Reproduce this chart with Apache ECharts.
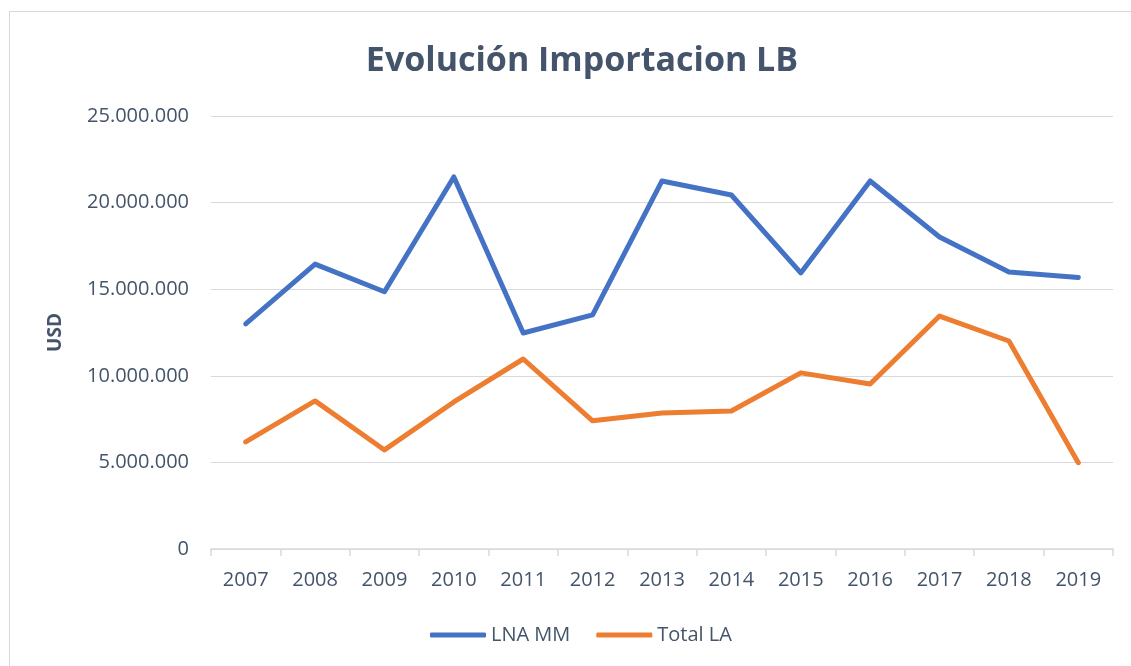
<!DOCTYPE html>
<html>
<head>
<meta charset="utf-8">
<script src="https://cdn.jsdelivr.net/npm/echarts@6/dist/echarts.min.js"></script>
<style>
  html, body { margin: 0; padding: 0; background: #fff; }
  #frame { position: absolute; left: 9px; top: 11px; width: 1140px; height: 680px; border: 1px solid #D9D9D9; box-sizing: border-box; }
  #chart { position: absolute; left: 0; top: 0; width: 1131px; height: 666px; }
</style>
</head>
<body>
<div id="frame"></div>
<div id="chart"></div>
<script>
const years = ['2007', '2008', '2009', '2010', '2011', '2012', '2013', '2014', '2015', '2016', '2017', '2018', '2019'];
const lnaMM = [13000000, 16450000, 14850000, 21480000, 12470000, 13520000, 21250000, 20440000, 15940000, 21250000, 18010000, 15990000, 15670000];
const totalLA = [6180000, 8550000, 5720000, 8490000, 10970000, 7400000, 7850000, 7970000, 10170000, 9530000, 13450000, 12010000, 4980000];

const textColor = '#44546A';
const gridColor = '#D9D9D9';
const font = '"Open Sans", "Noto Sans", sans-serif';

function fmtDots(v) {
    return String(v).replace(/\B(?=(\d{3})+(?!\d))/g, '.');
}

const chart = echarts.init(document.getElementById('chart'));
chart.setOption({
    animation: false,
    textStyle: { fontFamily: font },
    title: {
        text: 'Evolución Importacion LB',
        left: 577,
        textAlign: 'center',
        top: 39,
        textStyle: { color: textColor, fontSize: 34, fontWeight: 'bold', fontFamily: font },
    },
    legend: {
        bottom: 16,
        left: 425,
        icon: 'roundRect',
        itemWidth: 56,
        itemHeight: 5,
        itemGap: 26,
        textStyle: { color: textColor, fontSize: 20, fontFamily: font },
        data: ['LNA MM', 'Total LA'],
    },
    grid: { left: 211, right: 18, top: 116, bottom: 117, containLabel: false },
    xAxis: {
        type: 'category',
        data: years,
        boundaryGap: true,
        axisLine: { lineStyle: { color: gridColor, width: 1.5 } },
        axisTick: { show: true, length: 7, lineStyle: { color: gridColor, width: 1.5 } },
        axisLabel: { color: textColor, fontSize: 20, margin: 21, fontFamily: font },
    },
    yAxis: {
        type: 'value',
        min: 0,
        max: 25000000,
        interval: 5000000,
        name: 'USD',
        nameLocation: 'middle',
        nameGap: 146,
        nameTextStyle: { color: textColor, fontSize: 19, fontWeight: 'bold', fontFamily: font },
        axisLine: { show: false },
        axisTick: { show: false },
        splitLine: { lineStyle: { color: gridColor, width: 1 } },
        axisLabel: { color: textColor, fontSize: 20, margin: 22, fontFamily: font, formatter: fmtDots },
    },
    series: [
        {
            name: 'LNA MM', type: 'line', data: lnaMM,
            symbol: 'none',
            lineStyle: { color: '#4472C4', width: 5, cap: 'round', join: 'round' },
            itemStyle: { color: '#4472C4' },
        },
        {
            name: 'Total LA', type: 'line', data: totalLA,
            symbol: 'none',
            lineStyle: { color: '#ED7D31', width: 5, cap: 'round', join: 'round' },
            itemStyle: { color: '#ED7D31' },
        },
    ],
});
</script>
</body>
</html>
